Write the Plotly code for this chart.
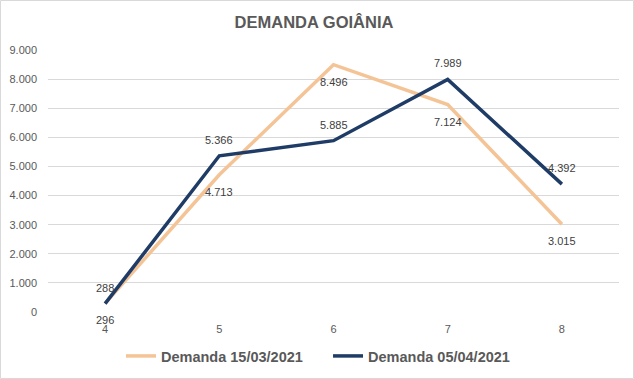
import plotly.graph_objects as go

categories = [4, 5, 6, 7, 8]
demanda_1503 = [296, 4713, 8496, 7124, 3015]
demanda_0504 = [288, 5366, 5885, 7989, 4392]
series_names = ["Demanda 15/03/2021", "Demanda 05/04/2021"]
y_ticks = [0, 1000, 2000, 3000, 4000, 5000, 6000, 7000, 8000, 9000]

ORANGE = "#F4C497"
BLUE = "#1F3C66"
FONT = "Liberation Sans"

def fmt(v):
    return f"{v:,}".replace(",", ".")

fig = go.Figure()
fig.add_trace(go.Scatter(x=categories, y=demanda_1503, mode="lines",
                         name=f"<b>{series_names[0]}</b>" + "&nbsp;" * 5,
                         line=dict(color=ORANGE, width=3.5)))
fig.add_trace(go.Scatter(x=categories, y=demanda_0504, mode="lines",
                         name=f"<b>{series_names[1]}</b>",
                         line=dict(color=BLUE, width=3.5)))

annotations = []
for x, v in zip(categories, demanda_1503):
    annotations.append(dict(x=x, y=v, text=fmt(v), showarrow=False, yshift=-17,
                            font=dict(family=FONT, size=11, color="#404040")))
for x, v in zip(categories, demanda_0504):
    annotations.append(dict(x=x, y=v, text=fmt(v), showarrow=False, yshift=16,
                            font=dict(family=FONT, size=11, color="#404040")))

W, H = 634, 379
L, R, T, B = 48, 15, 50, 67
pw, ph = W - L - R, H - T - B

def px_x(p):
    return (p - L) / pw

def px_y(p):
    return (H - B - p) / ph

fig.update_layout(
    width=W, height=H,
    margin=dict(l=L, r=R, t=T, b=B, autoexpand=False),
    paper_bgcolor="white", plot_bgcolor="white",
    separators=",.",
    title=dict(text="<b>DEMANDA GOIÂNIA</b>", x=314 / W, xanchor="center", xref="container",
               y=1 - 22 / H, yanchor="middle",
               font=dict(family=FONT, size=16.5, color="#595959")),
    xaxis=dict(range=[3.5, 8.5], tickmode="array", tickvals=categories,
               ticktext=[str(c) for c in categories], showgrid=False, zeroline=False,
               showline=False, ticks="", ticklabelstandoff=9, automargin=False,
               tickfont=dict(family=FONT, size=11, color="#595959")),
    yaxis=dict(range=[0, 9000], tickmode="array", tickvals=y_ticks,
               ticktext=[fmt(t) for t in y_ticks], showgrid=True, gridcolor="#D9D9D9",
               gridwidth=1, zeroline=False, showline=False, ticks="", ticklabelstandoff=10,
               automargin=False,
               tickfont=dict(family=FONT, size=11, color="#595959")),
    showlegend=True,
    legend=dict(orientation="h", x=318 / W, xanchor="center", xref="container",
                y=1 - 356 / H, yanchor="middle", yref="container",
                bgcolor="rgba(0,0,0,0)",
                font=dict(family=FONT, size=14.5, color="#595959"),
                itemwidth=30, traceorder="normal"),
    annotations=annotations,
    shapes=[dict(type="rect", xref="paper", yref="paper",
                 x0=px_x(0.5), x1=px_x(W - 0.5), y0=px_y(H - 0.5), y1=px_y(0.5),
                 line=dict(color="#D9D9D9", width=1), layer="below")],
)

fig.write_html("out.html", config={"displayModeBar": False},
               post_script="document.body.style.margin='0';document.body.style.padding='0';")
